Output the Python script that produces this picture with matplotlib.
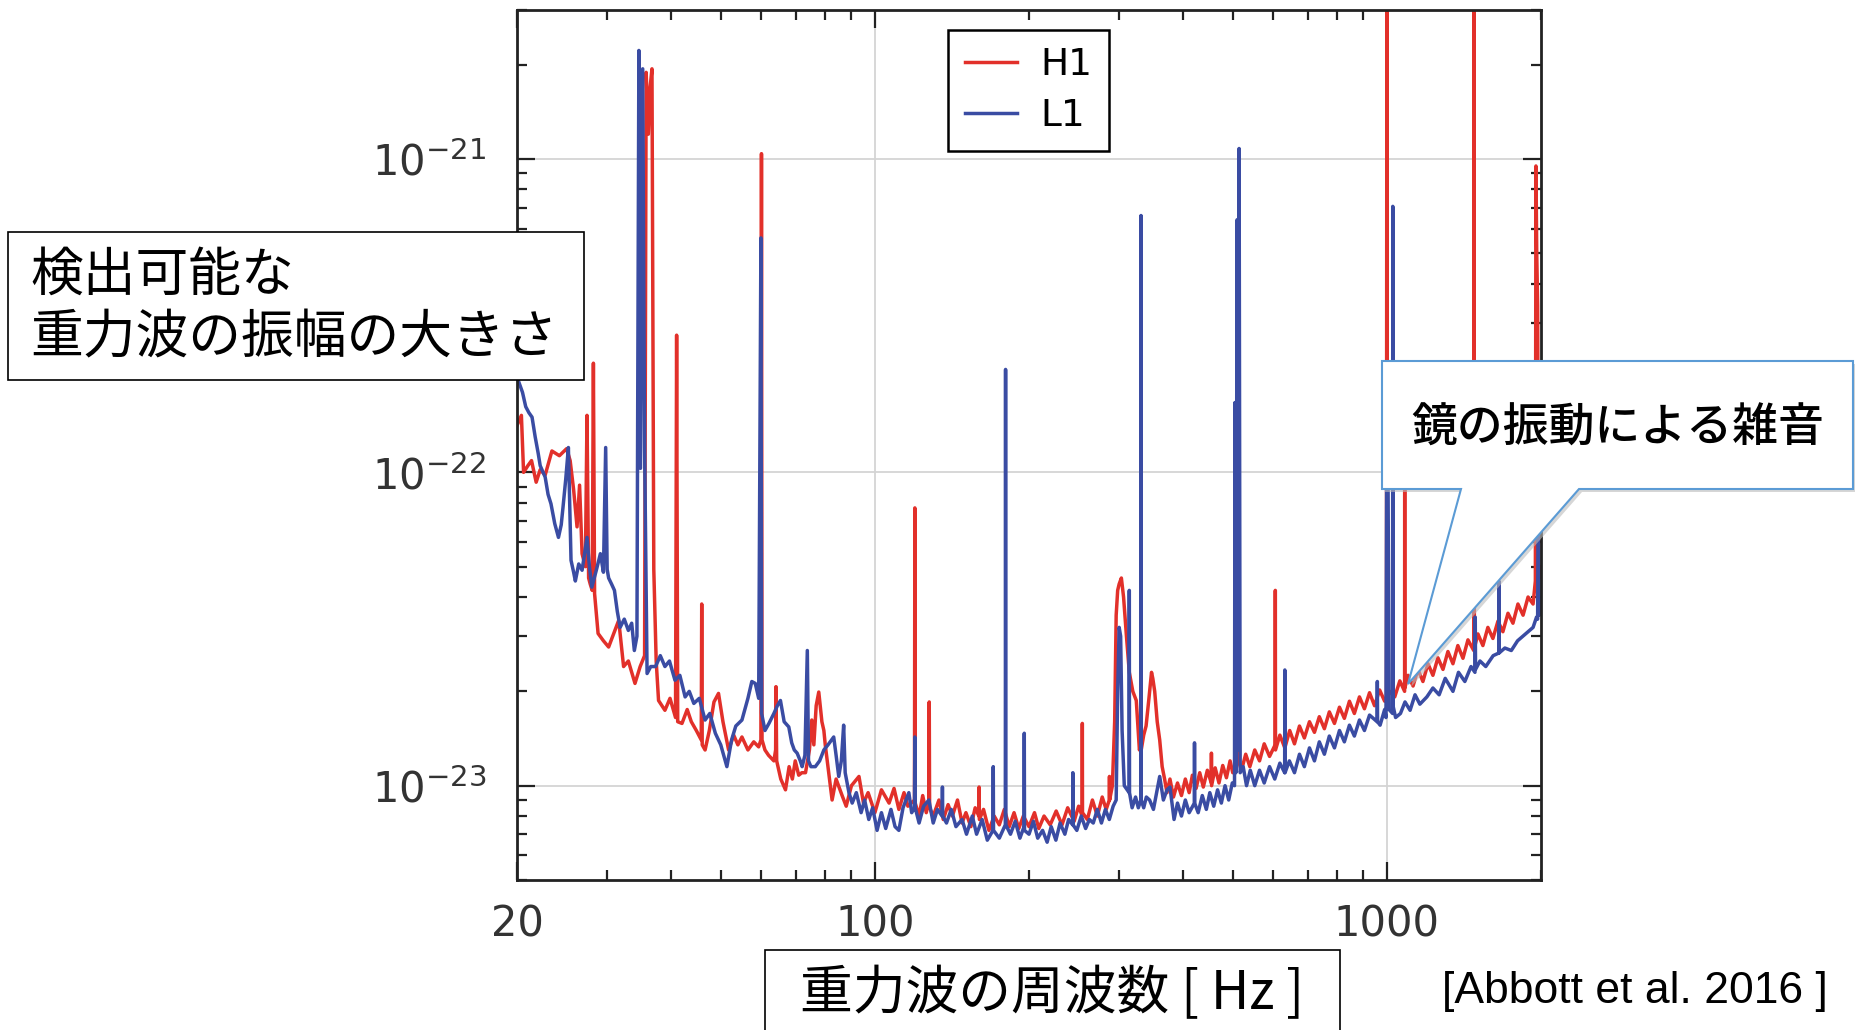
# LIGO H1 / L1 strain noise with Japanese annotations
import matplotlib.pyplot as plt
from matplotlib.patches import Rectangle, Polygon

# values: frequency [Hz], amplitude in units of 1e-23
h1_freq = [20.0, 20.4, 20.6, 21.0, 21.35, 21.8, 22.2, 22.7, 23.4, 24.2, 25.0, 25.4, 25.8, 26.2, 26.5, 26.8,
           27.2, 27.4, 27.6, 27.8, 28.05, 28.2, 28.35, 28.8, 29.5, 30.2, 31.0, 31.6, 32.3, 33.0, 34.0, 34.8,
           35.5, 35.75, 36.1, 36.4, 36.7, 37.0, 37.4, 37.8, 38.9, 39.8, 40.8, 41.0, 41.2, 42.0, 43.0, 43.8,
           44.8, 45.8, 45.9, 46.0, 46.6, 47.5, 48.5, 49.5, 50.5, 51.8, 53.0, 54.0, 55.0, 56.5, 58.0, 59.3,
           59.9, 60.05, 60.2, 61.0, 62.0, 63.5, 64.0, 64.1, 64.3, 65.5, 66.9, 68.0, 69.0, 69.9, 71.0, 72.0,
           73.2, 74.5, 75.3, 76.0, 76.8, 77.7, 78.8, 79.5,
           80, 82.5, 84, 86.3, 87.9, 90, 93.1, 95, 97, 100, 103, 106.6, 109, 111.4, 114, 116,
           119.5, 119.7, 119.9, 122, 124, 126, 127.5, 127.7, 127.9, 130, 133.4, 136, 139, 141.7, 145, 148,
           150.6, 154, 157, 159.6, 159.8, 160, 163, 167, 171, 175, 179, 183, 187, 191, 195, 200,
           205, 209, 214, 220, 226, 232, 238, 245, 250, 254, 254.2, 254.4, 260, 266, 272, 278,
           283, 287, 287.2, 287.4, 291, 294, 296, 298, 300, 303, 306, 310, 314, 319, 324, 328.6,
           330.8, 331, 331.3, 335, 338.6, 343, 347, 349, 352, 356, 360, 364, 368, 372, 377, 383,
           390, 397, 404, 411, 417, 424, 431, 438, 446, 454, 454.3, 454.6, 462, 470, 478, 486,
           494, 500, 507, 510, 513, 520, 530, 540, 552, 564, 576, 590, 605, 605.5, 606, 618,
           632, 646, 660, 675, 690, 706, 722, 738, 755, 772, 790, 808, 826, 845, 864, 884,
           904, 925, 946, 968, 990, 998, 1000, 1002, 1013, 1036, 1060, 1083, 1083.5, 1084, 1100, 1125,
           1150, 1176, 1203, 1230, 1258, 1287, 1316, 1346, 1376, 1408, 1440, 1478, 1480, 1482, 1506, 1540,
           1575, 1611, 1648, 1685, 1724, 1763, 1803, 1845, 1887, 1930, 1950, 1955, 1962, 1970, 1978, 1990,
           2000]
h1_amp = [14.1, 15.2, 10.0, 10.5, 10.9, 9.3, 10.2, 9.8, 11.7, 11.3, 11.9, 10.9, 8.8, 6.7, 9.1, 5.5,
          5.0, 15.2, 4.6, 4.4, 4.2, 22.3, 4.1, 3.06, 2.9, 2.77, 3.1, 3.37, 2.4, 2.5, 2.12, 2.4,
          2.6, 189, 120, 170, 194, 4.9, 2.5, 1.87, 1.74, 1.9, 1.65, 27.4, 1.6, 1.58, 1.75, 1.6,
          1.5, 1.4, 3.8, 1.35, 1.3, 1.5, 1.85, 1.97, 1.6, 1.3, 1.45, 1.35, 1.43, 1.3, 1.38, 1.33,
          1.4, 104, 1.4, 1.3, 1.25, 1.2, 1.3, 2.07, 1.2, 1.05, 0.97, 1.15, 1.05, 1.2, 1.08, 1.1,
          1.1, 1.3, 1.62, 1.35, 1.8, 1.99, 1.6, 1.5,
          1.35, 0.9, 1.05, 0.93, 0.86, 1.0, 1.07, 0.88, 0.95, 0.82, 0.97, 0.88, 0.98, 0.84, 0.95, 0.86,
          0.9, 7.7, 0.88, 0.8, 0.93, 0.82, 0.9, 1.85, 0.85, 0.8, 0.9, 0.78, 0.87, 0.8, 0.9, 0.76,
          0.82, 0.74, 0.85, 0.8, 0.99, 0.78, 0.84, 0.72, 0.8, 0.75, 0.84, 0.74, 0.82, 0.73, 0.8, 0.74,
          0.82, 0.73, 0.8, 0.75, 0.83, 0.75, 0.85, 0.77, 0.86, 0.8, 1.58, 0.82, 0.78, 0.9, 0.8, 0.92,
          0.84, 0.9, 1.07, 0.9, 1.0, 1.6, 3.5, 4.2, 4.4, 4.6, 4.0, 3.0, 2.3, 2.0, 1.87, 1.3,
          1.35, 29, 1.3, 1.45, 1.55, 1.9, 2.3, 2.2, 2.0, 1.6, 1.4, 1.15, 1.05, 0.95, 1.05, 0.92,
          1.02, 0.93, 1.05, 0.95, 1.08, 0.98, 1.1, 0.99, 1.12, 1.02, 1.27, 1.0, 1.14, 1.02, 1.16, 1.06,
          1.2, 1.1, 1.15, 13.5, 1.2, 1.12, 1.26, 1.15, 1.3, 1.2, 1.36, 1.24, 1.35, 4.2, 1.3, 1.45,
          1.32, 1.5, 1.36, 1.55, 1.42, 1.6, 1.48, 1.66, 1.52, 1.72, 1.58, 1.78, 1.64, 1.86, 1.7, 1.92,
          1.76, 1.98, 1.8, 2.02, 1.86, 1.9, 400, 1.9, 2.0, 1.92, 2.16, 2.0, 9.1, 2.05, 2.25, 2.08,
          2.35, 2.15, 2.45, 2.25, 2.56, 2.35, 2.68, 2.45, 2.8, 2.55, 2.92, 2.7, 400, 2.75, 3.05, 2.8,
          3.2, 2.95, 3.35, 3.1, 3.55, 3.3, 3.8, 3.5, 4.0, 3.8, 4.5, 95, 50, 34, 5.0, 4.6,
          5.0]

l1_freq = [20.0, 20.1, 20.5, 20.8, 21.1, 21.4, 21.7, 22.0, 22.2, 22.7, 23.0, 23.3, 23.7, 24.1, 24.4, 24.6,
           24.9, 25.2, 25.35, 25.5, 25.8, 26.0, 26.4, 26.8, 27.1, 27.4, 27.7, 28.0, 28.6, 29.1, 29.5, 29.8,
           30.0, 30.2, 30.6, 31.0, 31.4, 31.8, 32.4, 33.0, 33.5, 33.9, 34.3, 34.6, 34.85, 35.2, 35.5, 35.9,
           36.5, 37.3, 38.1, 38.9, 39.7, 40.7, 41.6, 42.6, 43.4, 44.3, 45.4, 46.6, 47.6, 48.8, 50.0, 51.4,
           52.5, 53.5, 55.0, 56.5, 57.5, 58.4, 59.3, 59.9, 60.1, 61.0, 62.1, 63.5, 64.5, 65.4, 66.5, 67.9,
           68.8, 69.6, 70.5, 71.5, 72.1, 73.0, 73.8, 74.2, 75.0, 76.5, 78.0, 79.5, 81.0, 83.1, 84.0, 85.0,
           86.0, 86.9, 87.5, 89.0, 90.3, 92.0, 94.0, 95.5, 97.3, 99.0, 101, 103, 105, 107.5, 109.5, 111.4,
           113.5, 116.5, 118, 119.5, 119.7, 119.9, 122, 124.5, 127.5, 130, 132.5, 135.3, 135.5, 135.7, 138, 141,
           144, 148, 151, 155, 158, 162, 165.8, 170.1, 170.3, 170.5, 175, 179.8, 180, 180.2, 184, 188,
           192, 195.6, 195.8, 196, 200, 204, 208, 212.6, 217, 221, 225.7, 230, 235, 239, 243.4, 243.6,
           243.8, 248, 253, 258, 262.4, 267, 272, 277, 282, 287, 292, 296, 298, 300, 302, 304,
           307, 313.8, 314, 314.3, 318, 323, 327, 330.8, 331, 331.3, 335, 339, 344, 350, 355, 360,
           366, 372, 377, 384, 390, 397, 404, 411, 420.8, 421, 421.3, 428, 436, 444, 451, 459,
           467, 475, 483, 491, 499, 504, 505, 507, 510, 512, 514.5, 517, 524, 532, 541, 552,
           564, 576, 590, 604, 618, 631.5, 632, 632.5, 645, 660, 675, 690, 706, 722, 738, 755,
           772, 790, 808, 826, 845, 864, 884, 904, 925, 957, 958, 959, 970, 990, 996, 1000,
           1004, 1010, 1026, 1027, 1028, 1040, 1063, 1085, 1110, 1135, 1160, 1197, 1230, 1265, 1300, 1346,
           1380, 1420, 1460, 1486, 1488, 1490, 1520, 1560, 1613, 1654, 1655, 1656, 1700, 1750, 1800, 1870,
           1930, 1960, 1970, 1975, 1985, 2000]
l1_amp = [23.0, 19.7, 18.0, 16.2, 15.5, 15.0, 13.0, 11.5, 10.5, 9.66, 8.5, 7.94, 6.86, 6.2, 6.8, 7.75,
          9.5, 12.0, 8.0, 5.24, 4.8, 4.5, 5.1, 4.87, 5.5, 6.2, 5.0, 4.3, 4.9, 5.5, 4.8, 12.0,
          4.9, 4.6, 4.4, 4.2, 3.6, 3.2, 3.4, 3.13, 3.3, 2.7, 3.0, 222, 10.3, 194, 12.0, 2.28,
          2.4, 2.4, 2.6, 2.4, 2.5, 2.17, 2.25, 1.92, 2.0, 1.83, 1.9, 1.62, 1.7, 1.47, 1.35, 1.15,
          1.4, 1.55, 1.62, 1.9, 2.15, 2.12, 1.9, 56, 1.7, 1.5, 1.58, 1.7, 1.8, 1.87, 1.6, 1.54,
          1.37, 1.3, 1.27, 1.2, 1.15, 1.25, 2.7, 1.2, 1.15, 1.15, 1.2, 1.3, 1.35, 1.43, 1.25, 1.07,
          1.2, 1.56, 1.1, 0.95, 0.88, 0.95, 0.82, 0.9, 0.78, 0.85, 0.72, 0.82, 0.73, 0.84, 0.74, 0.72,
          0.85, 0.95, 0.82, 0.85, 1.43, 0.85, 0.76, 0.86, 0.9, 0.76, 0.84, 0.8, 0.99, 0.8, 0.76, 0.84,
          0.74, 0.78, 0.7, 0.8, 0.7, 0.78, 0.67, 0.72, 1.15, 0.72, 0.68, 0.75, 21.3, 0.75, 0.7, 0.77,
          0.68, 0.74, 1.47, 0.72, 0.7, 0.77, 0.68, 0.72, 0.66, 0.74, 0.67, 0.76, 0.7, 0.78, 0.75, 1.1,
          0.75, 0.72, 0.8, 0.73, 0.78, 0.76, 0.84, 0.76, 0.84, 0.78, 0.86, 0.9, 2.0, 3.2, 3.0, 1.5,
          1.0, 0.95, 4.2, 0.95, 0.85, 0.92, 0.85, 0.9, 66, 0.9, 0.85, 0.92, 0.9, 0.84, 0.95, 1.07,
          0.9, 0.97, 0.99, 0.78, 0.88, 0.8, 0.9, 0.82, 0.88, 1.37, 0.88, 0.82, 0.93, 0.84, 0.95, 0.86,
          0.97, 0.88, 1.0, 0.9, 1.02, 1.0, 16.7, 1.1, 64, 1.3, 108, 1.1, 1.15, 1.0, 1.12, 1.0,
          1.12, 1.02, 1.15, 1.05, 1.18, 1.1, 2.34, 1.1, 1.2, 1.1, 1.26, 1.15, 1.32, 1.2, 1.38, 1.26,
          1.44, 1.32, 1.5, 1.38, 1.56, 1.44, 1.62, 1.5, 1.68, 1.6, 2.15, 1.6, 1.56, 1.75, 1.65, 18,
          15, 1.75, 1.7, 70.6, 1.8, 1.65, 1.7, 1.85, 1.74, 1.95, 1.82, 1.92, 2.05, 1.95, 2.2, 2.0,
          2.3, 2.15, 2.4, 2.3, 3.45, 2.35, 2.5, 2.4, 2.6, 2.65, 4.5, 2.65, 2.75, 2.7, 2.9, 3.06,
          3.2, 3.45, 3.4, 8.7, 3.5, 3.6]

series_labels = ['H1', 'L1']
x_ticks = [20, 100, 1000]
x_tick_labels = ['20', '100', '1000']

W, H = 1855, 1030
fig = plt.figure(figsize=(W / 100, H / 100), dpi=100)
ax = fig.add_axes([517 / W, 1 - 880 / H, 1024 / W, 870.5 / H])

red = '#e2302a'
blue = '#3a4ca3'
ax.plot(h1_freq, [a * 1e-23 for a in h1_amp], color=red, lw=2.5, label=series_labels[0])
ax.plot(l1_freq, [a * 1e-23 for a in l1_amp], color=blue, lw=2.5, label=series_labels[1])

ax.set_xscale('log')
ax.set_yscale('log')
ax.set_xlim(20, 2000)
ax.set_ylim(5e-24, 3e-21)

ax.set_xticks(x_ticks)
ax.set_xticklabels(x_tick_labels)
ax.set_yticks([1e-23, 1e-22, 1e-21])
ax.set_yticklabels([r'$10^{-23}$', r'$10^{-22}$', r'$10^{-21}$'])
ax.grid(True, which='major', color='#d4d4d4', lw=1.3)
ax.tick_params(which='both', direction='in', top=True, right=True, colors='#222222',
               labelcolor='#333333', labelsize=30)
ax.tick_params(which='major', length=13, width=1.6)
ax.tick_params(which='minor', length=7, width=1.6)
ax.tick_params(axis='x', pad=17)
ax.tick_params(axis='y', pad=22)
for s in ax.spines.values():
    s.set_linewidth(2)
    s.set_color('#222222')

leg = ax.legend(loc='upper left', bbox_to_anchor=(0.421, 0.976), fontsize=27, fancybox=False,
                edgecolor='black', framealpha=1, handlelength=1.4, borderpad=0.45,
                labelspacing=0.4, handletextpad=0.6, borderaxespad=0)
leg.get_frame().set_linewidth(1.8)

jp = ['Noto Sans CJK JP', 'DejaVu Sans']

# left box
fig.add_artist(Rectangle((8 / W, 1 - 380 / H), 576 / W, 148 / H, transform=fig.transFigure,
                         facecolor='white', edgecolor='black', lw=1.2, zorder=5))
fig.text(30 / W, 1 - 275 / H, '検出可能な', family=jp, fontsize=38, va='center', zorder=6)
fig.text(30 / W, 1 - 338 / H, '重力波の振幅の大きさ', family=jp, fontsize=38, va='center', zorder=6)

# x label box
fig.add_artist(Rectangle((765 / W, -0.02), 575 / W, 0.02 + 1 - 950 / H, transform=fig.transFigure,
                         facecolor='white', edgecolor='black', lw=1.2, zorder=5))
fig.text(1052 / W, 1 - 994 / H, '重力波の周波数 [ Hz ]', family=jp, fontsize=38,
         ha='center', va='center', zorder=6)

fig.text(1828 / W, 1 - 991 / H, '[Abbott et al. 2016 ]', family=['Liberation Sans', 'DejaVu Sans'],
         fontsize=32, ha='right', va='center')

# callout
pts = [(1382, 361), (1853, 361), (1853, 489), (1579, 489), (1408, 684), (1461, 489), (1382, 489)]
shadow = Polygon([((x + 3) / W, 1 - (y + 3) / H) for x, y in pts], closed=True, transform=fig.transFigure,
                 facecolor='#bbbbbb', edgecolor='none', alpha=0.6, zorder=4)
fig.add_artist(shadow)
callout = Polygon([(x / W, 1 - y / H) for x, y in pts], closed=True, transform=fig.transFigure,
                  facecolor='white', edgecolor='#5b9bd5', lw=1.5, zorder=5)
fig.add_artist(callout)
fig.text(1618 / W, 1 - 428 / H, '鏡の振動による雑音', family=jp, fontsize=33, weight='medium',
         ha='center', va='center', zorder=6)

fig.savefig('out.png', dpi=100)
